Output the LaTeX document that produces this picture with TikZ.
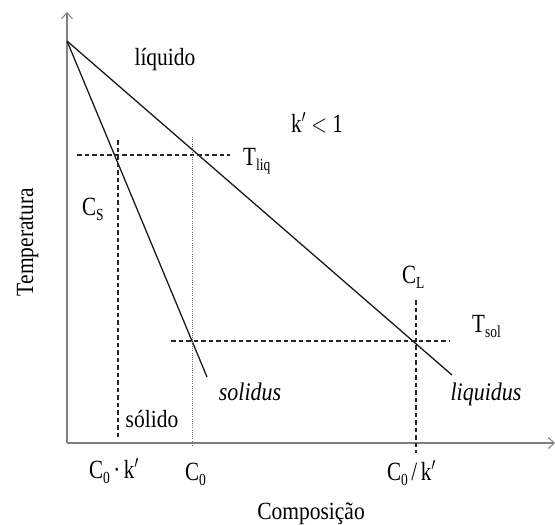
\documentclass[tikz,border=0pt]{standalone}
\usepackage{fontspec}
\setmainfont{Liberation Serif}
\usetikzlibrary{arrows.meta}
\newcommand\vlbl[1]{\scalebox{1}[1.25]{#1}}
\newcommand\vtxt[1]{\scalebox{1}[1.15]{#1}}
\newcommand\sbs[1]{\raisebox{-0.45ex}{\fontsize{13.5}{13.5}\selectfont #1}}
\newcommand\kp{k\ensuremath{'}}
\begin{document}
\begin{tikzpicture}[x=1pt,y=-1pt,
  axis/.style={draw=black!50, line width=1.8pt},
  curve/.style={draw=black!90, line width=1.3pt},
  guide/.style={draw=black!85, dash pattern=on 4.5pt off 3pt, line width=1.1pt},
  dotguide/.style={draw=black!55, dash pattern=on 1pt off 1.2pt, line width=0.8pt},
  txt/.style={font=\fontsize{21.5}{22}\selectfont, inner sep=0pt, anchor=base},
  itxt/.style={font=\fontsize{22}{22}\itshape\selectfont, inner sep=0pt, anchor=base},
  mlab/.style={font=\fontsize{21}{21}\selectfont, inner sep=0pt, anchor=base west},
  tip/.style={-{Straight Barb[length=6pt,width=11pt,line width=1pt]}}
]
\useasboundingbox (0,0) rectangle (555,525);
% axes
\coordinate (O) at (67,443);
\coordinate (Ytop) at (67,12);
\coordinate (Xend) at (555,443);
\draw[axis,tip] (O) -- (Ytop);
\draw[axis,tip] (O) -- (Xend);
% lines
\coordinate (T0) at (67,41);
\coordinate (Lend) at (452,375);
\coordinate (Send) at (207,377);
\draw[curve] (T0) -- (Lend);
\draw[curve] (T0) -- (Send);
% guides
\coordinate (tl1) at (77,155);   \coordinate (tl2) at (230,155);
\coordinate (cs1) at (118,140);  \coordinate (cs2) at (118,440);
\coordinate (c01) at (192,137);  \coordinate (c02) at (192,447);
\coordinate (ts1) at (171,341);  \coordinate (ts2) at (450,341);
\coordinate (cl1) at (416,300);  \coordinate (cl2) at (416,453);
\draw[guide] (tl1) -- (tl2);
\draw[guide] (cs1) -- (cs2);
\draw[dotguide] (c01) -- (c02);
\draw[guide] (ts1) -- (ts2);
\draw[guide] (cl1) -- (cl2);
% text labels
\node[txt] (liq) at (165,65) {\vtxt{líquido}};
\node[txt] (sol) at (152,427) {\vtxt{sólido}};
\node[itxt] (solidus) at (250,400) {\vtxt{solidus}};
\node[itxt] (liquidus) at (486,400) {\vtxt{liquidus}};
\node[txt] (comp) at (311,519) {\vtxt{Composição}};
\node[txt, rotate=90] (temp) at (33,242) {\vtxt{Temperatura}};
% symbol labels
\node[mlab] (kl) at (291,132) {\vlbl{\kp\ $<$ 1}};
\node[mlab] (tliq) at (243,165) {\vlbl{T\sbs{liq}}};
\node[mlab] (cs) at (82,215) {\vlbl{C\sbs{S}}};
\node[mlab] (cl) at (402,283) {\vlbl{C\sbs{L}}};
\node[mlab] (tsol) at (472,332) {\vlbl{T\sbs{sol}}};
\node[mlab] (c0k) at (89,478) {\vlbl{C\sbs{0}\,·\,\kp}};
\node[mlab] (c0) at (185,480) {\vlbl{C\sbs{0}}};
\node[mlab] (c0dk) at (387,480) {\vlbl{C\sbs{0}\,/\,\kp}};
\end{tikzpicture}
\end{document}
